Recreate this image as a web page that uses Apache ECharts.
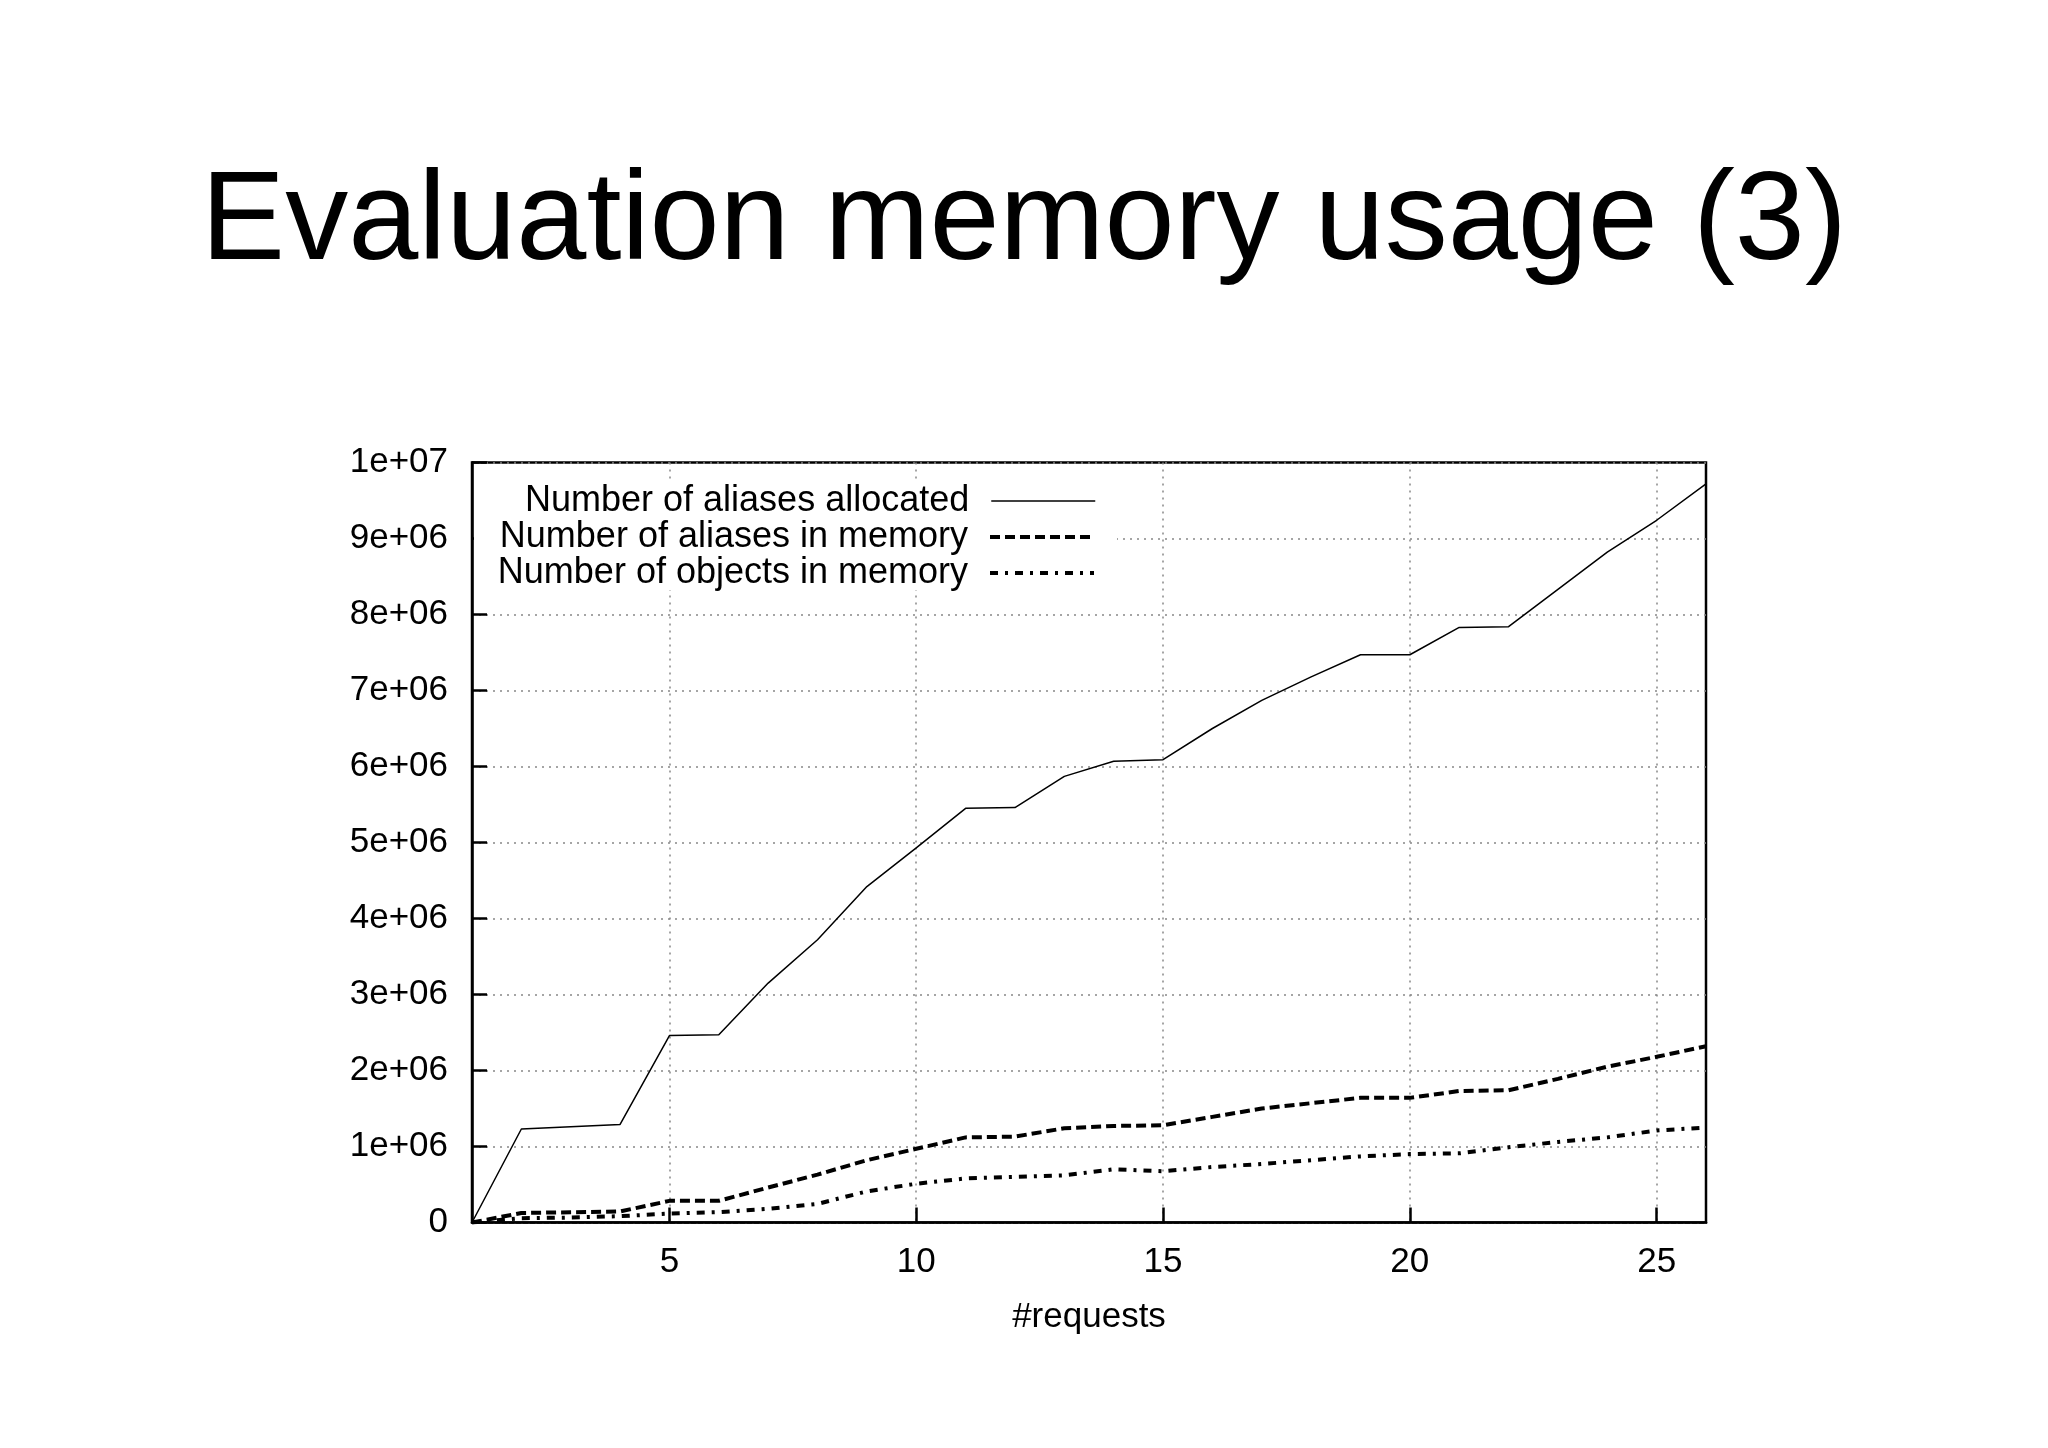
<!DOCTYPE html>
<html>
<head>
	<meta charset="UTF-8">
	<title>Evaluation memory usage (3)</title>
	<script src="https://cdn.jsdelivr.net/npm/echarts@6/dist/echarts.min.js"></script>
	<style>
		html, body { margin: 0; padding: 0; background: #fff; }
	</style>
</head>
<body>
	<div id="main" style="width: 2048px;height:1448px;"></div>
	<script type="text/javascript">
		// requests 1..26
		var requests = [1, 2, 3, 4, 5, 6, 7, 8, 9, 10, 11, 12, 13, 14, 15, 16, 17, 18, 19, 20, 21, 22, 23, 24, 25, 26];
		var aliasesAllocated = [0, 1230000, 1260000, 1290000, 2460000, 2470000, 3150000, 3720000, 4420000, 4930000,
			5450000, 5460000, 5870000, 6070000, 6090000, 6500000, 6870000, 7180000, 7470000, 7470000,
			7830000, 7840000, 8330000, 8820000, 9240000, 9720000];
		var aliasesInMemory = [0, 125000, 135000, 145000, 285000, 285000, 460000, 630000, 820000, 970000,
			1120000, 1130000, 1240000, 1270000, 1280000, 1390000, 1500000, 1570000, 1640000, 1640000,
			1730000, 1740000, 1890000, 2050000, 2180000, 2320000];
		var objectsInMemory = [0, 57000, 65000, 83000, 118000, 136000, 180000, 245000, 410000, 510000,
			580000, 600000, 620000, 700000, 675000, 730000, 770000, 820000, 870000, 900000,
			910000, 990000, 1060000, 1120000, 1210000, 1250000];
		var xTicks = [5, 10, 15, 20, 25];
		var seriesNames = ['Number of aliases allocated', 'Number of aliases in memory', 'Number of objects in memory'];

		function pairs(values) {
			return requests.map(function(r, i) { return [r, values[i]]; });
		}

		function sci(v) {
			if (v === 0) return '0';
			var e = Math.floor(Math.log10(v) + 1e-9);
			var m = Math.round(v / Math.pow(10, e));
			return m + 'e+' + (e < 10 ? '0' + e : e);
		}

		var font = '"Liberation Sans", Helvetica, Arial, sans-serif';
		var styles = [
			{ width: 1.5, type: 'solid' },
			{ width: 4, type: [10, 5] },
			{ width: 4, type: [8, 7, 3, 7] }
		];

		function legendFor(i, top) {
			return {
				orient: 'vertical',
				align: 'right',
				right: 952,
				top: top,
				itemWidth: 104,
				itemHeight: 14,
				padding: 0,
				selectedMode: false,
				data: [seriesNames[i]],
				itemStyle: { opacity: 0 },
				lineStyle: { color: '#000', width: styles[i].width, type: styles[i].type },
				textStyle: { fontFamily: font, fontSize: 36, color: '#000', padding: [0, 17, 0, 0] }
			};
		}

		var myChart = echarts.init(document.getElementById('main'));
		myChart.setOption({
			backgroundColor: '#fff',
			animation: false,
			title: {
				text: 'Evaluation memory usage (3)',
				left: 'center',
				top: 156,
				textStyle: { fontFamily: font, fontSize: 126, fontWeight: 'normal', color: '#000' }
			},
			legend: [legendFor(0, 483), legendFor(1, 519), legendFor(2, 555)],
			graphic: [{
				type: 'rect',
				z: 1,
				shape: { x: 474, y: 480, width: 643, height: 110 },
				style: { fill: '#fff' },
				silent: true
			}],
			grid: {
				left: 472,
				top: 462.5,
				width: 1234,
				height: 760,
				show: true,
				borderColor: '#000',
				borderWidth: 2.5,
				containLabel: false,
				outerBoundsMode: 'none'
			},
			xAxis: {
				type: 'value',
				min: 1,
				max: 26,
				name: '#requests',
				nameLocation: 'middle',
				nameGap: 77,
				nameTextStyle: { fontFamily: font, fontSize: 35, color: '#000' },
				axisLine: { show: true, lineStyle: { color: '#000', width: 2.5 } },
				axisTick: { show: true, inside: true, length: 15, customValues: xTicks, lineStyle: { color: '#000', width: 2.5 } },
				axisLabel: { customValues: xTicks, margin: 22, fontFamily: font, fontSize: 35, color: '#000' },
				splitLine: { show: true, lineStyle: { color: '#888', width: 1.5, type: [2, 5] } }
			},
			yAxis: {
				type: 'value',
				min: 0,
				max: 10000000,
				interval: 1000000,
				axisLine: { show: true, lineStyle: { color: '#000', width: 2.5 } },
				axisTick: { show: true, inside: true, length: 15, lineStyle: { color: '#000', width: 2.5 } },
				axisLabel: { margin: 24, fontFamily: font, fontSize: 35, color: '#000', formatter: sci },
				splitLine: { show: true, lineStyle: { color: '#888', width: 1.5, type: [2, 5] } }
			},
			series: [aliasesAllocated, aliasesInMemory, objectsInMemory].map(function(values, i) {
				return {
					name: seriesNames[i],
					type: 'line',
					symbol: 'none',
					data: pairs(values),
					lineStyle: { color: '#000', width: styles[i].width, type: styles[i].type },
					itemStyle: { color: '#000' },
					z: 5
				};
			})
		});
	</script>
</body>
</html>
